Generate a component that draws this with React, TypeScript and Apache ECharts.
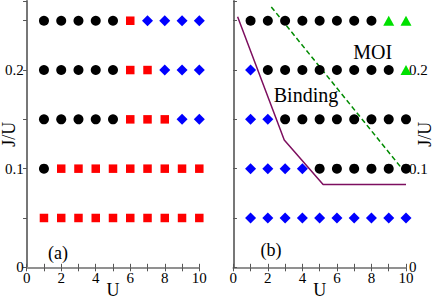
import React, { useEffect, useRef } from "react";
import * as echarts from "echarts";

const U_VALUES = [1, 2, 3, 4, 5, 6, 7, 8, 9, 10];
const J_ROWS = [0.05, 0.1, 0.15, 0.2, 0.25];
// C = circle (black), S = square (red), D = diamond (blue), T = triangle (green)
const PHASES_A = ["SSSSSSSSSS", "CSSSSSSSSS", "CCCCCSSSDD", "CCCCCSSDDD", "CCCCCSDDDD"];
const PHASES_B = ["DDDDDDDDDD", "DDDDCCCCCC", "DDCCCCCCCC", "DCCCCCCCCT", "CCCCCCCCTT"];
const BINDING_LINE = [[0.25, 0.254], [2.95, 0.129], [5.2, 0.084], [10, 0.084]];
const MOI_LINE = [[2.2, 0.264], [10, 0.095]];
const X_TICKS = [0, 2, 4, 6, 8, 10];
const Y_TICKS = [0, 0.1, 0.2];

const FONT = "Liberation Serif";
const GRAY = "#8a8a8a";

const MARKERS: Record<string, any> = {
  C: { symbol: "circle", symbolSize: 10, color: "#000000" },
  S: { symbol: "rect", symbolSize: 8.5, color: "#ff0000" },
  D: { symbol: "diamond", symbolSize: [11, 11], color: "#0000ff" },
  T: { symbol: "triangle", symbolSize: [11, 10], color: "#00e000" },
};

function pointsFor(phases: string[], code: string) {
  const pts: number[][] = [];
  phases.forEach((row, ri) => {
    row.split("").forEach((c, ui) => {
      if (c === code) pts.push([U_VALUES[ui], J_ROWS[ri]]);
    });
  });
  return pts;
}

const isLabelY = (v: number) => Y_TICKS.some((t) => Math.abs(t - v) < 1e-6);
const fmtY = (v: number) => (isLabelY(v) ? (Math.abs(v) < 1e-9 ? "0" : v.toFixed(1)) : "");
const fmtX = (v: number) => (X_TICKS.includes(Math.round(v)) && Math.abs(v - Math.round(v)) < 1e-6 ? String(v) : "");

export default function App() {
  const ref = useRef<HTMLDivElement>(null);
  useEffect(() => {
    if (!ref.current) return;
    const chart = echarts.init(ref.current, null, { renderer: "svg" });
    const grids = [
      { left: 26.7, top: 1, width: 172.6, height: 266.3, containLabel: false, outerBoundsMode: "none" },
      { left: 233.3, top: 1, width: 172.7, height: 266.3, containLabel: false, outerBoundsMode: "none" },
    ];
    const nameStyle = { fontFamily: FONT, fontSize: 18, color: "#000" };
    const xAxes: any[] = [];
    const yAxes: any[] = [];
    [0, 1].forEach((g) => {
      xAxes.push({
        type: "value", gridIndex: g, position: "bottom", min: 0, max: 10, interval: 1,
        name: "U", nameLocation: "middle", nameGap: 14, nameMoveOverlap: false,
        nameTextStyle: nameStyle,
        axisLine: { lineStyle: { color: GRAY, width: 1.5 } },
        axisTick: { inside: true, length: 3.5, lineStyle: { color: "#555", width: 1 } },
        axisLabel: { formatter: fmtX, fontFamily: FONT, fontSize: 15, color: "#000", margin: 3, showMaxLabel: true, showMinLabel: true, hideOverlap: false },
        splitLine: { show: false },
      });
      xAxes.push({
        type: "value", gridIndex: g, position: "top", min: 0, max: 10, interval: 1,
        axisLine: { lineStyle: { color: GRAY, width: 1.5 } },
        axisTick: { inside: true, length: 4, lineStyle: { color: "#555", width: 1 } },
        axisLabel: { show: false },
        splitLine: { show: false },
      });
      yAxes.push({
        type: "value", gridIndex: g, position: "left", min: 0, max: 0.27, interval: 0.05,
        name: g === 0 ? "J/U" : "", nameLocation: "middle", nameGap: 9, nameRotate: 90, nameMoveOverlap: false,
        nameTextStyle: nameStyle,
        axisLine: { show: true, lineStyle: { color: "#000", width: 1.5 } },
        axisTick: { show: true, inside: g === 1, length: 3.5, lineStyle: { color: "#555", width: 1 } },
        axisLabel: { show: g === 0, formatter: fmtY, fontFamily: FONT, fontSize: 15, color: "#000", margin: 3, hideOverlap: false },
        splitLine: { show: false },
      });
      yAxes.push({
        type: "value", gridIndex: g, position: "right", min: 0, max: 0.27, interval: 0.05,
        name: g === 1 ? "J/U" : "", nameLocation: "middle", nameGap: 10, nameRotate: 90, nameMoveOverlap: false,
        nameTextStyle: nameStyle,
        axisLine: { show: true, lineStyle: { color: GRAY, width: 1.5 } },
        axisTick: { show: true, inside: g === 0, length: 3.5, lineStyle: { color: "#555", width: 1 } },
        axisLabel: { show: g === 1, formatter: fmtY, fontFamily: FONT, fontSize: 15, color: "#000", margin: 3, hideOverlap: false },
        splitLine: { show: false },
      });
    });

    const series: any[] = [];
    [PHASES_A, PHASES_B].forEach((phases, g) => {
      ["S", "D", "T", "C"].forEach((code) => {
        const pts = pointsFor(phases, code);
        if (!pts.length) return;
        const m = MARKERS[code];
        series.push({
          type: "scatter", xAxisIndex: g * 2, yAxisIndex: g * 2,
          data: pts, symbol: m.symbol, symbolSize: m.symbolSize,
          itemStyle: { color: m.color, opacity: 1 }, z: 3,
        });
      });
    });
    series.push({
      type: "line", xAxisIndex: 2, yAxisIndex: 2, data: BINDING_LINE, showSymbol: false,
      lineStyle: { color: "#7d0f5f", width: 1.5 }, z: 2,
    });
    series.push({
      type: "line", xAxisIndex: 2, yAxisIndex: 2, data: MOI_LINE, showSymbol: false,
      lineStyle: { color: "#008b00", width: 1.5, type: [5, 3] }, z: 2,
    });

    const txt = (text: string, x: number, y: number, size: number) => ({
      type: "text", x, y, z: 10,
      style: { text, fontFamily: FONT, fontSize: size, fill: "#000", textAlign: "center", textVerticalAlign: "middle" },
    });

    chart.setOption({
      animation: false,
      grid: grids,
      xAxis: xAxes,
      yAxis: yAxes,
      series,
      graphic: [
        txt("MOI", 372.7, 52, 20),
        txt("Binding", 306, 95, 20),
        txt("(a)", 58, 253, 18),
        txt("(b)", 271, 250, 18),
      ],
    });
    return () => chart.dispose();
  }, []);
  return <div ref={ref} style={{ position: "fixed", left: 0, top: 0, width: 436, height: 301, background: "#fff" }} />;
}
